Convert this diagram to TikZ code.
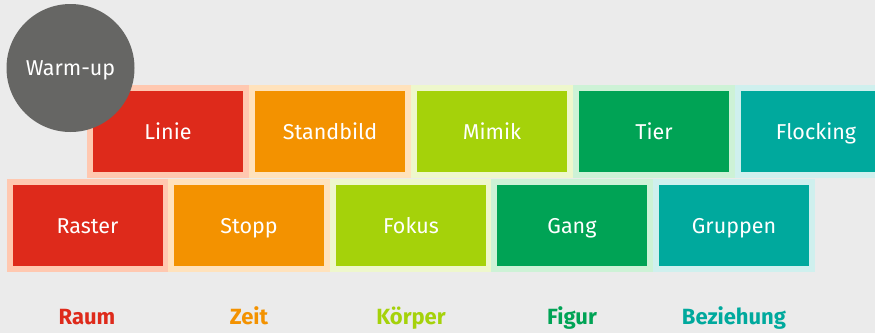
\documentclass[tikz,border=0pt]{standalone}
\usepackage{fontspec}
\setmainfont{Fira Sans}
\definecolor{bg}{HTML}{EBEBEB}
\definecolor{cred}{HTML}{DE2A1B}
\definecolor{tred}{HTML}{FFC8B0}
\definecolor{corange}{HTML}{F39200}
\definecolor{torange}{HTML}{FFE2BC}
\definecolor{clime}{HTML}{A5D20A}
\definecolor{tlime}{HTML}{EEF7CC}
\definecolor{cgreen}{HTML}{00A355}
\definecolor{tgreen}{HTML}{CDF2D6}
\definecolor{cteal}{HTML}{00A99D}
\definecolor{tteal}{HTML}{CFF0EE}
\definecolor{cgrey}{HTML}{666664}
\tikzset{
  tile/.style 2 args={fill=#1, draw=#2, line width=6pt, minimum width=156pt, minimum height=87pt,
     inner sep=0pt, text=white, font=\fontsize{21.5}{24}\selectfont, text height=15pt, text depth=0pt},
  cat/.style={font=\fontsize{22}{24}\selectfont\bfseries, inner sep=0pt, text=#1,
     text height=16pt, text depth=0pt}
}
\begin{document}
\begin{tikzpicture}[x=1pt,y=-1pt]
\fill[bg] (0,0) rectangle (875,333);
\useasboundingbox (0,0) rectangle (875,333);
% top row
\node[tile={cred}{tred}]       (linie)     at (168,131.5) {Linie};
\node[tile={corange}{torange}] (standbild) at (330,131.5) {Standbild};
\node[tile={clime}{tlime}]     (mimik)     at (492,131.5) {Mimik};
\node[tile={cgreen}{tgreen}]   (tier)      at (654,131.5) {Tier};
\node[tile={cteal}{tteal}]     (flocking)  at (816,131.5) {Flocking};
% bottom row
\node[tile={cred}{tred}]       (raster)  at (87.5,225.5) {Raster};
\node[tile={corange}{torange}] (stopp)   at (249,225.5) {Stopp};
\node[tile={clime}{tlime}]     (fokus)   at (411,225.5) {Fokus};
\node[tile={cgreen}{tgreen}]   (gang)    at (572,225.5) {Gang};
\node[tile={cteal}{tteal}]     (gruppen) at (734,225.5) {Gruppen};
% circle
\node[circle, fill=cgrey, minimum size=128pt, inner sep=0pt, text=white,
      font=\fontsize{21.5}{24}\selectfont, text height=15pt, text depth=0pt] (warmup) at (70.5,68) {Warm-up};
% labels
\node[cat=cred]    (raum)      at (87,316)  {Raum};
\node[cat=corange] (zeit)      at (249,316) {Zeit};
\node[cat=clime]   (koerper)   at (411,316) {Körper};
\node[cat=cgreen]  (figur)     at (572,316) {Figur};
\node[cat=cteal]   (beziehung) at (734,316) {Beziehung};
\end{tikzpicture}
\end{document}
